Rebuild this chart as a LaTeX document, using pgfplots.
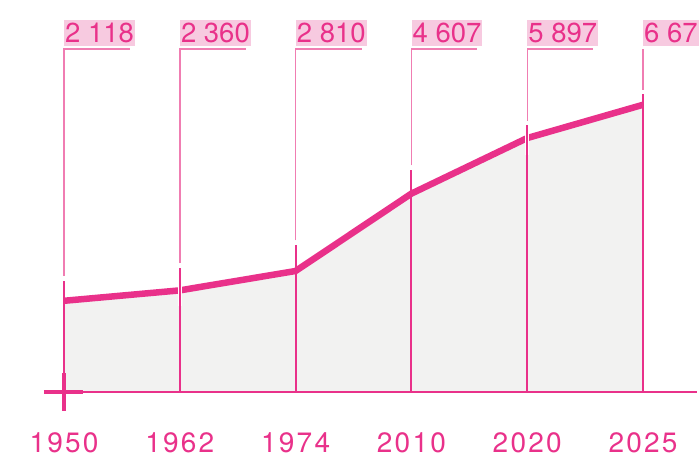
\documentclass[border=0pt]{standalone}
\usepackage{pgfplots}
\usepackage{pgfplotstable}
\pgfplotsset{compat=1.18}
\usepackage{fontspec}
\setmainfont{TeX Gyre Heros}
\definecolor{pk}{RGB}{233,49,138}
\definecolor{pklight}{RGB}{240,125,178}
\definecolor{pkbox}{RGB}{247,202,224}
\definecolor{fillgray}{RGB}{242,242,241}

\pgfplotstableread{
x year value dark
0 1950 2118 2577
1 1962 2360 2879
2 1974 2810 3413
3 2010 4607 5155
4 2020 5897 6200
5 2025 6670 6920
}\data

\begin{document}
\begin{tikzpicture}
\begin{axis}[
  scale only axis, width=700pt, height=465pt,
  xmin=-0.5527, xmax=5.492, ymin=-1695, ymax=9103,
  hide axis, clip=false]
\path (axis cs:-0.5527,-1695) rectangle (axis cs:5.492,9103);
% grey area
\addplot[draw=none, fill=fillgray] coordinates {(0,0) (0,2118) (1,2360) (2,2810) (3,4607) (4,5897) (5,6670) (5,0)} -- cycle;
% main line
\addplot[pk, line width=6.5pt, line join=round] table[x=x, y=value] {\data};
% white gaps in the line
\draw[white, line width=4.5pt] (axis cs:1,2000) -- (axis cs:1,2750);
\draw[white, line width=4.5pt] (axis cs:4,5500) -- (axis cs:4,6300);
% dark verticals
\addplot[pk, line width=2pt, ycomb, mark=none] table[x=x, y=dark] {\data};
% light verticals to labels
\draw[pklight, line width=1.4pt] (axis cs:0,2690) -- (axis cs:0,7965) -- (axis cs:0.57,7965);
\draw[pklight, line width=1.4pt] (axis cs:1,2990) -- (axis cs:1,7965) -- (axis cs:1.57,7965);
\draw[pklight, line width=1.4pt] (axis cs:2,3520) -- (axis cs:2,7965) -- (axis cs:2.57,7965);
\draw[pklight, line width=1.4pt] (axis cs:3,5260) -- (axis cs:3,7965) -- (axis cs:3.57,7965);
\draw[pklight, line width=1.4pt] (axis cs:4,6300) -- (axis cs:4,7965) -- (axis cs:4.57,7965);
\draw[pklight, line width=1.4pt] (axis cs:5,7020) -- (axis cs:5,7965);
% baseline and cross
\draw[pk, line width=2pt] (axis cs:0,0) -- (axis cs:5.466,0);
\draw[pk, line width=4pt] (axis cs:-0.173,0) -- (axis cs:0.164,0);
\draw[pk, line width=4pt] (axis cs:0,441) -- (axis cs:0,-441);
% value labels
\tikzset{vl/.style={anchor=south west, fill=pkbox, text=pk, inner xsep=1pt, inner ysep=3pt, font=\fontsize{27.5}{30}\selectfont}}
\node[vl] at (axis cs:0,8034) {2 118};
\node[vl] at (axis cs:1,8034) {2 360};
\node[vl] at (axis cs:2,8034) {2 810};
\node[vl] at (axis cs:3,8034) {4 607};
\node[vl] at (axis cs:4,8034) {5 897};
\node[vl] at (axis cs:5,8034) {\makebox[54pt][l]{6 67}};
% year labels
\tikzset{yl/.style={anchor=center, text=pk, inner sep=0pt, font=\fontsize{28}{32}\selectfont\addfontfeatures{LetterSpace=8}}}
\node[yl] at (axis cs:0,-1184) {1950};
\node[yl] at (axis cs:1,-1184) {1962};
\node[yl] at (axis cs:2,-1184) {1974};
\node[yl] at (axis cs:3,-1184) {2010};
\node[yl] at (axis cs:4,-1184) {2020};
\node[yl] at (axis cs:5,-1184) {2025};
\end{axis}
\pgfresetboundingbox
\useasboundingbox (current axis.south west) rectangle (current axis.north east);
\end{tikzpicture}
\end{document}
